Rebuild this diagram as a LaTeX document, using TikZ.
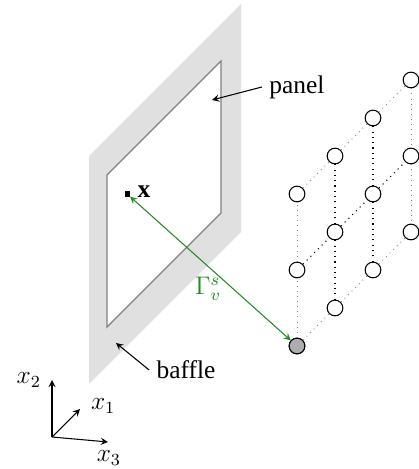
\documentclass[tikz,border=0pt]{standalone}
\usepackage{fontspec}
\setmainfont{Liberation Serif}
\usepackage{amsmath}
\usepackage{bm}
\definecolor{arrowgreen}{RGB}{34,139,34}
\tikzset{
  sensor/.style={circle,draw=black,fill=white,inner sep=0pt,minimum size=7.4pt,line width=0.5pt},
  outerlink/.style={gray,dotted,line width=0.4pt},
  innerlink/.style={black,dotted,line width=0.5pt},
  pointer/.style={->,>=stealth,line width=0.5pt},
  tag/.style={font=\fontsize{12}{14}\selectfont},
}
\begin{document}
\begin{tikzpicture}[x=0.63cm,y=0.63cm]
\useasboundingbox (-7.816,-3.237) rectangle (3.21,9.105);
\filldraw[black!12,draw=none] (-5.47,-1) -- (-5.47,5) -- (-1.47,9) -- (-1.47,3) -- cycle;
\filldraw[fill=white,draw=gray,line width=0.6pt] (-5,0.5) -- (-5,4.5) -- (-2,7.5) -- (-2,3.5) -- cycle;
% receiver grid
\foreach \i in {0,...,3}
  \foreach \j in {0,1,2}
    \node[sensor] (n\i\j) at (\i,\i+2*\j) {};
\node[sensor,fill=black!32] (n00) at (0,0) {};
\draw[outerlink] (n00) -- (n01);
\draw[outerlink] (n01) -- (n02);
\draw[outerlink] (n02) -- (n12);
\draw[outerlink] (n12) -- (n22);
\draw[outerlink] (n22) -- (n32);
\draw[outerlink] (n32) -- (n31);
\draw[outerlink] (n31) -- (n30);
\draw[outerlink] (n00) -- (n10);
\draw[outerlink] (n10) -- (n20);
\draw[outerlink] (n20) -- (n30);
\draw[innerlink] (n01) -- (n11);
\draw[innerlink] (n11) -- (n21);
\draw[innerlink] (n21) -- (n31);
\draw[innerlink] (n10) -- (n11);
\draw[innerlink] (n11) -- (n12);
\draw[innerlink] (n20) -- (n21);
\draw[innerlink] (n21) -- (n22);
% field point
\node[fill=black,inner sep=0pt,minimum size=2.4pt] (xpt) at (-4.47,4) {};
\node[tag] (xlabel) at (-4.03,4.05) {\textbf{x}};
\draw[pointer,<->,arrowgreen] (xpt) -- (n00);
\node[tag,text=arrowgreen] (gamma) at (-2.34,1.5) {$\Gamma_v^s$};
% labels
\node[tag] (panel) at (0,6.816) {panel};
\coordinate (paneltip) at (-2.237,6.474);
\draw[pointer] (panel.west) -- (paneltip);
\node[tag] (baffle) at (-2.92,-0.632) {baffle};
\coordinate (baffletip) at (-4.763,0.079);
\draw[pointer] (baffle.west) -- (baffletip);
% axes
\coordinate (orig) at (-6.447,-2.395);
\coordinate (tipone) at (-5.71,-1.658);
\coordinate (tiptwo) at (-6.447,-0.895);
\coordinate (tipthree) at (-4.974,-2.526);
\draw[pointer] (orig) -- (tipone);
\draw[pointer] (orig) -- (tiptwo);
\draw[pointer] (orig) -- (tipthree);
\node[tag] (xone) at (-5.1,-1.59) {$x_1$};
\node[tag] (xtwo) at (-7.06,-0.89) {$x_2$};
\node[tag] (xthree) at (-4.95,-2.95) {$x_3$};
\end{tikzpicture}
\end{document}
